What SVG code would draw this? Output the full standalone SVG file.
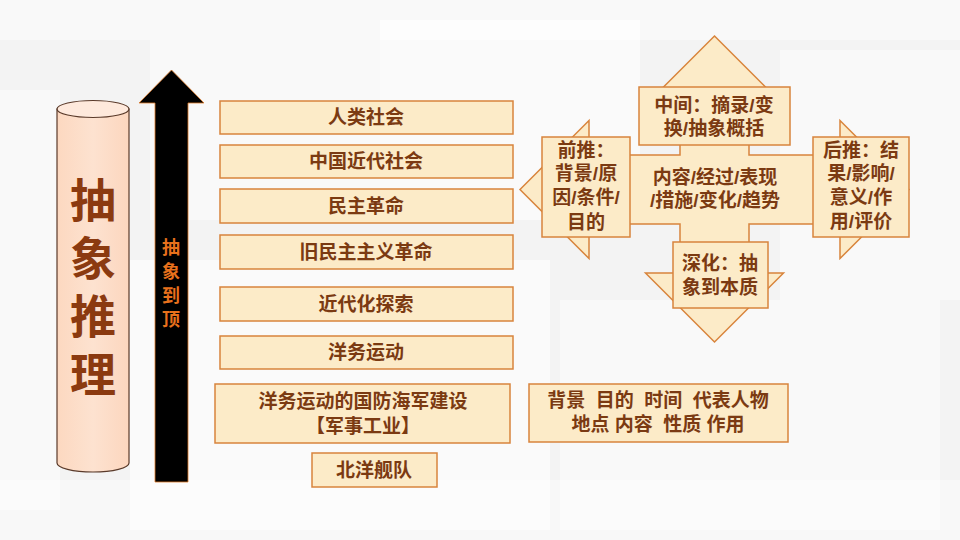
<svg xmlns="http://www.w3.org/2000/svg" width="960" height="540" viewBox="0 0 960 540">
<style>
.box{fill:#FCEBC8;stroke:#D8843C;stroke-width:1.5}
.t{font-family:"Liberation Sans","Noto Sans CJK SC","Noto Sans CJK TC",sans-serif;font-weight:bold;fill:#7B3A12;font-size:19px;text-anchor:middle}
.v{font-family:"Noto Sans CJK SC","Noto Sans CJK TC",sans-serif;font-weight:bold;writing-mode:vertical-rl;text-orientation:upright}
.bg{fill:#FFFFFF}
</style>
<defs>
<linearGradient id="cyl" x1="0" y1="0" x2="1" y2="0">
<stop offset="0" stop-color="#FCD8C0"/>
<stop offset="0.5" stop-color="#FDE2D0"/>
<stop offset="1" stop-color="#FCD6BE"/>
</linearGradient>
</defs>
<rect x="0" y="0" width="960" height="540" fill="#F3F3F3"/>
<g id="background">
<rect class="bg" x="0" y="0" width="960" height="40" opacity="0.5"/>
<rect class="bg" x="150" y="40" width="230" height="180" opacity="0.5"/>
<rect class="bg" x="0" y="90" width="60" height="420" opacity="0.5"/>
<rect class="bg" x="380" y="20" width="260" height="200" opacity="0.6"/>
<rect class="bg" x="560" y="300" width="380" height="230" opacity="0.5"/>
<rect class="bg" x="130" y="260" width="420" height="270" opacity="0.6"/>
<rect class="bg" x="780" y="50" width="180" height="250" opacity="0.5"/>
<rect class="bg" x="0" y="480" width="960" height="60" opacity="0.4"/>
</g>
<g id="cylinder">
<path d="M57,109 L57,463 A36,9 0 0 0 129,463 L129,109 Z" fill="url(#cyl)" stroke="#5A3A2A" stroke-width="1.2"/>
<ellipse cx="93" cy="109" rx="36" ry="8.5" fill="#FEE9DC" stroke="#5A3A2A" stroke-width="1.2"/>
<text class="v" x="93" y="177" style="font-size:46px;letter-spacing:12px;fill:#8B3A10">抽象推理</text>
</g>
<g id="connectors">
<polygon id="up-arrow" points="155,482 155,103 139,103 171.5,70 204,103 188,103 188,482" fill="#000000" stroke="#E07B2A" stroke-width="0.8"/>
<polygon id="cross-arrow" points="714.5,36 783.5,105 749,105 749,155 840,155 840,120.5 909,189.5 840,258.5 840,224 749,224 749,273 783.5,273 714.5,342 645.5,273 680,273 680,224 589,224 589,258.5 520,189.5 589,120.5 589,155 680,155 680,105 645.5,105" class="box" stroke-width="1.2"/>
</g>
<g id="label-top">
<text class="v" x="171" y="238" style="font-size:18px;letter-spacing:6px;fill:#E8711C">抽象到顶</text>
</g>
<g id="n1"><rect class="box" x="220" y="101" width="293" height="33"/><text class="t" x="366" y="124">人类社会</text></g>
<g id="n2"><rect class="box" x="220" y="145" width="293" height="33"/><text class="t" x="366" y="168">中国近代社会</text></g>
<g id="n3"><rect class="box" x="220" y="189" width="293" height="34"/><text class="t" x="366" y="213">民主革命</text></g>
<g id="n4"><rect class="box" x="220" y="235" width="293" height="34"/><text class="t" x="366" y="259">旧民主主义革命</text></g>
<g id="n5"><rect class="box" x="220" y="287" width="293" height="34"/><text class="t" x="366" y="311">近代化探索</text></g>
<g id="n6"><rect class="box" x="220" y="336" width="293" height="33"/><text class="t" x="366" y="359">洋务运动</text></g>
<g id="n7"><rect class="box" x="215" y="384" width="295" height="59"/><text class="t" x="363" y="408">洋务运动的国防海军建设</text><text class="t" x="363" y="433">【军事工业】</text></g>
<g id="n8"><rect class="box" x="312" y="453" width="125" height="34"/><text class="t" x="374" y="477">北洋舰队</text></g>
<g id="n9"><rect class="box" x="529" y="384" width="259" height="58"/><text class="t" x="658" y="407" xml:space="preserve">背景  目的  时间  代表人物</text><text class="t" x="658" y="431" xml:space="preserve">地点 内容  性质 作用</text></g>
<g id="center"><text class="t" x="715" y="184">内容/经过/表现</text><text class="t" x="715" y="207">/措施/变化/趋势</text></g>
<g id="top-box"><rect class="box" x="639" y="87" width="151" height="58"/><text class="t" x="714" y="112">中间：摘录/变</text><text class="t" x="714" y="135">换/抽象概括</text></g>
<g id="left-box"><rect class="box" x="542" y="137" width="88" height="100"/><text class="t" x="586" y="157">前推：</text><text class="t" x="586" y="180">背景/原</text><text class="t" x="586" y="204">因/条件/</text><text class="t" x="586" y="229">目的</text></g>
<g id="right-box"><rect class="box" x="813" y="137" width="96" height="100"/><text class="t" x="861" y="157">后推：结</text><text class="t" x="861" y="180">果/影响/</text><text class="t" x="861" y="204">意义/作</text><text class="t" x="861" y="228">用/评价</text></g>
<g id="bottom-box"><rect class="box" x="673" y="242" width="95" height="66"/><text class="t" x="720" y="270">深化：抽</text><text class="t" x="720" y="294">象到本质</text></g>
</svg>
